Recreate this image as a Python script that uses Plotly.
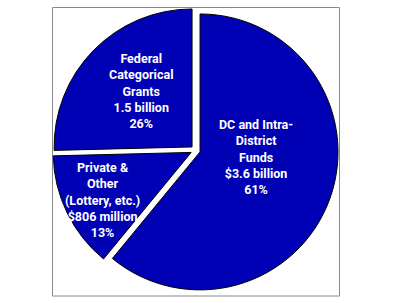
import plotly.graph_objects as go

# ---- data ----
categories = ["DC and Intra-District Funds", "Private & Other (Lottery, etc.)", "Federal Categorical Grants"]
label_lines = [["DC and Intra-", "District", "Funds"],
               ["Private &", "Other", "(Lottery, etc.)"],
               ["Federal", "Categorical", "Grants"]]
values_billion = [3.6, 0.806, 1.5]
amount_text = ["$3.6 billion", "$806 million", "1.5 billion"]
percent_text = ["61%", "13%", "26%"]

W, H = 395, 303
FONT = "Roboto, Liberation Sans, Arial, sans-serif"

fig = go.Figure()
fig.add_trace(go.Pie(
    labels=categories,
    values=values_billion,
    sort=False,
    direction="clockwise",
    rotation=0,
    pull=[0.035, 0.035, 0.035],
    marker=dict(colors=["#0000B4", "#0000B4", "#0000B4"],
                line=dict(color="#000000", width=1)),
    textinfo="none",
    hoverinfo="label+value",
    showlegend=False,
    domain=dict(x=[52.7 / W, 338.3 / W], y=[1 - 293.1 / H, 1 - 7.5 / H]),
))

# label positions (pixel centres)
label_pos = [(256, 157), (102, 199.5), (141, 91)]
for lines, amt, pct, (px, py) in zip(label_lines, amount_text, percent_text, label_pos):
    fig.add_annotation(
        text="<b>" + "<br>".join(lines + [amt, pct]) + "</b>",
        x=px / W, y=1 - py / H, xref="paper", yref="paper",
        xanchor="center", yanchor="middle", showarrow=False,
        font=dict(family=FONT, size=12.5, color="white"),
    )

fig.add_shape(type="rect", xref="paper", yref="paper",
              x0=52.5 / W, x1=339.5 / W, y0=1 - 296 / H, y1=1 - 7.5 / H,
              line=dict(color="#888888", width=1), fillcolor="rgba(0,0,0,0)", layer="below")

fig.update_layout(width=W, height=H, margin=dict(l=0, r=0, t=0, b=0),
                  paper_bgcolor="white", plot_bgcolor="white")
fig.write_html("out.html")
